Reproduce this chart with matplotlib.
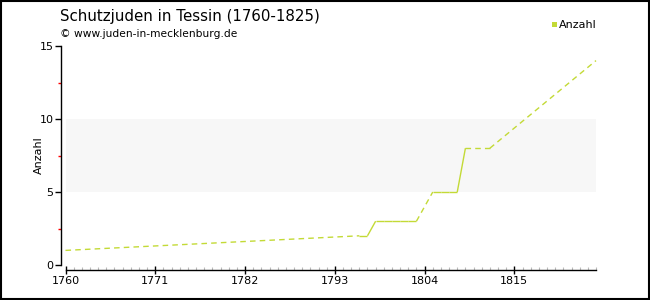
import numpy as np
import matplotlib.pyplot as plt
from matplotlib.ticker import MultipleLocator, FixedLocator

years = [1760, 1796, 1797, 1798, 1799, 1800, 1801, 1802, 1803,
         1805, 1806, 1807, 1808, 1809, 1812, 1825]
anzahl = [1, 2, 2, 3, 3, 3, 3, 3, 3,
          5, 5, 5, 5, 8, 8, 14]
xticks = [1760, 1771, 1782, 1793, 1804, 1815]
yticks = [0, 5, 10, 15]

line_col = '#c3da36'

fig = plt.figure(figsize=(6.5, 3), dpi=100)
W, H = 650, 300
# axes in pixel coordinates: 1760 at x=65.5, 1825 at x=596; 0 at y=265, 15 at y=46
ax = fig.add_axes([65.5/W, (H-265)/H, (596-65.5)/W, (265-46)/H])
ax.set_xlim(1760, 1825)
ax.set_ylim(0, 15)

ax.axhspan(5, 10, color='#f7f7f7', zorder=0, lw=0)

# solid between consecutive years, dashed across gaps
for i in range(len(years)-1):
    ls = '-' if years[i+1] - years[i] == 1 else (0, (4, 3))
    ax.plot(years[i:i+2], anzahl[i:i+2], color=line_col, lw=1, linestyle=ls,
            solid_capstyle='butt', clip_on=False)

for s in ['top', 'right']:
    ax.spines[s].set_visible(False)
ax.spines['left'].set_position(('outward', 3.6))
ax.spines['bottom'].set_position(('outward', 3.6))
ax.spines['left'].set_bounds(0, 15)
ax.spines['bottom'].set_bounds(1760, 1825)
for s in ['left', 'bottom']:
    ax.spines[s].set_linewidth(1)

ax.set_yticks(yticks)
ax.yaxis.set_minor_locator(FixedLocator([2.5, 7.5, 12.5]))
ax.tick_params(axis='y', which='major', length=4, width=1, labelsize=8, pad=1)
ax.tick_params(axis='y', which='minor', length=2, width=1, color='red')

ax.set_xticks(xticks)
ax.xaxis.set_minor_locator(MultipleLocator(1))
ax.tick_params(axis='x', which='major', direction='inout', length=6, width=1,
               labelsize=8, pad=1)
ax.tick_params(axis='x', which='minor', direction='in', length=2.5, width=0.8,
               color='#bbbbbb')

ax.set_ylabel('Anzahl', fontsize=8)
ax.yaxis.set_label_coords(-0.041, 0.5)
ax.set_facecolor('none')

fig.text(60/W, 1 - 16/H, 'Schutzjuden in Tessin (1760-1825)', fontsize=10.8,
         va='center', ha='left')
fig.text(60/W, 1 - 34/H, '© www.juden-in-mecklenburg.de', fontsize=7.7,
         va='center', ha='left')

# legend
fig.patches.append(plt.Rectangle((552/W, 1 - 27/H), 5/W, 5/H, transform=fig.transFigure,
                                 facecolor=line_col, edgecolor='none', figure=fig))
fig.text(559/W, 1 - 24.5/H, 'Anzahl', fontsize=8, va='center', ha='left')

# border
fig.patches.append(plt.Rectangle((0.001, 0.002), 0.997, 0.995, transform=fig.transFigure,
                                 facecolor='none', edgecolor='black', lw=1.5, figure=fig))

fig.savefig('out.png', dpi=100)
